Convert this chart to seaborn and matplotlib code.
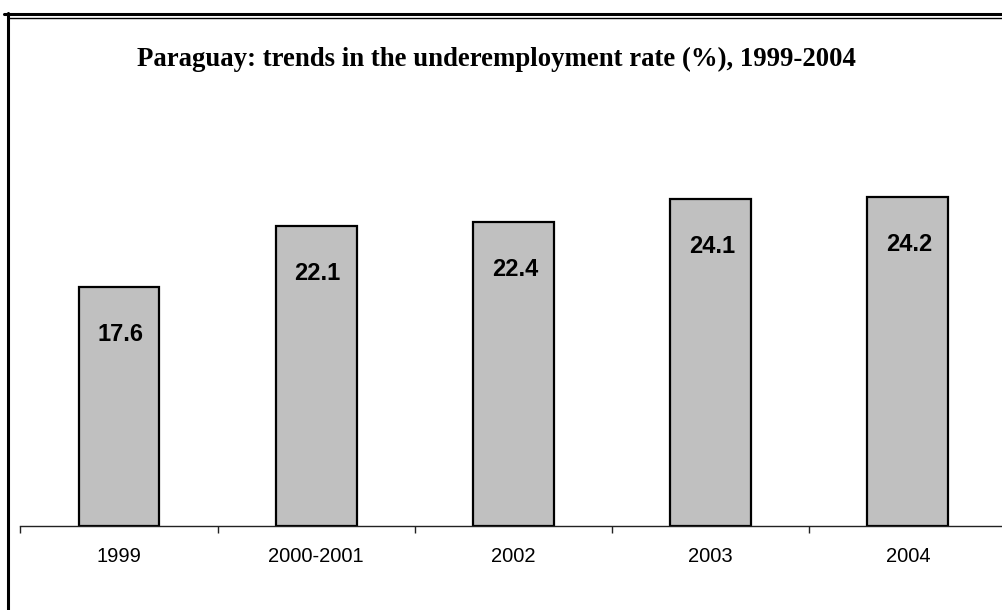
import pandas as pd
import seaborn as sns
import matplotlib.pyplot as plt
from matplotlib.lines import Line2D
from matplotlib.ticker import FixedLocator

periods = ["1999", "2000-2001", "2002", "2003", "2004"]
rates = [17.6, 22.1, 22.4, 24.1, 24.2]
title = "Paraguay: trends in the underemployment rate (%), 1999-2004"

sns.set_theme(style="white")
plt.rcParams["font.family"] = ["Liberation Sans", "DejaVu Sans"]
plt.rcParams["text.color"] = "black"
plt.rcParams["xtick.color"] = "black"

df = pd.DataFrame({"period": periods, "rate": rates})

fig = plt.figure(figsize=(10.03, 6.1), dpi=100)
ax = fig.add_axes([0.0204, 0.1377, 0.983, 0.67])

sns.barplot(data=df, x="period", y="rate", color="#C0C0C0", saturation=1,
            width=0.41, edgecolor="black", linewidth=1.6, ax=ax)

ax.set_xlim(-0.5, 4.5)
ax.set_ylim(0, 410 / 13.62)
ax.set_xlabel("")
ax.set_ylabel("")
ax.set_yticks([])
for s in ["top", "right", "left"]:
    ax.spines[s].set_visible(False)
ax.spines["bottom"].set_color("#222222")
ax.spines["bottom"].set_linewidth(1.0)

# ticks at category boundaries, labels centered
ax.xaxis.set_minor_locator(FixedLocator([i - 0.5 for i in range(len(periods) + 1)]))
ax.tick_params(axis="x", which="minor", direction="out", length=5, width=1, color="#222222", bottom=True)
ax.tick_params(axis="x", which="major", length=0, pad=15, labelsize=14.5, labelcolor="black")

for p, v in zip(ax.patches, rates):
    ax.annotate(f"{v:.1f}", (p.get_x() + p.get_width() / 2, p.get_height()),
                xytext=(1, -34), textcoords="offset points", ha="center", va="center",
                fontsize=17, fontweight="bold", color="black")

fig.text(0.495, 0.902, title, ha="center", va="center", fontsize=19.3,
         fontweight="bold", color="black", family=["Liberation Serif", "DejaVu Serif"])

# frame lines
fig.add_artist(Line2D([4 / 1003, 1], [1 - 14 / 610] * 2, color="black", lw=2.2))
fig.add_artist(Line2D([8 / 1003, 1], [1 - 18 / 610] * 2, color="black", lw=1.0))
fig.add_artist(Line2D([8 / 1003] * 2, [1 - 13 / 610, 0], color="black", lw=2.2))

fig.savefig("out.png", dpi=100)
